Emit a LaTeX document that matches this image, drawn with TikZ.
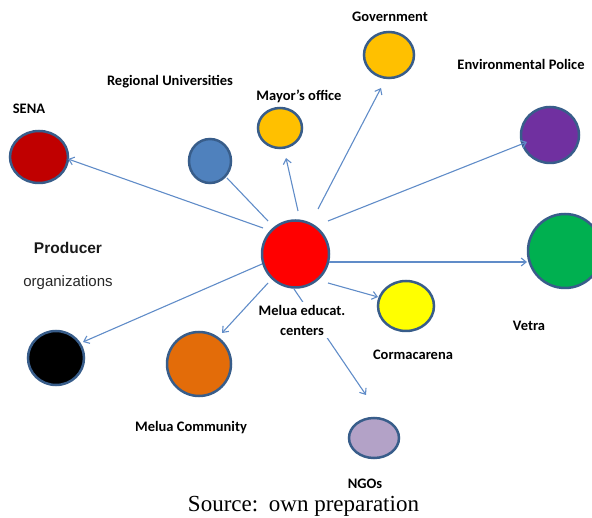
\documentclass[tikz,border=0pt]{standalone}
\usepackage{fontspec}
\setmainfont{Liberation Serif}
\newfontfamily\lblfont{Carlito}
\newfontfamily\arialfont{Liberation Sans}
\usetikzlibrary{shapes.geometric,arrows.meta}
\definecolor{outl}{RGB}{56,93,138}
\definecolor{arrowc}{RGB}{96,140,200}
\definecolor{cSena}{RGB}{192,0,0}
\definecolor{cBlue}{RGB}{79,129,189}
\definecolor{cGold}{RGB}{255,192,0}
\definecolor{cPurple}{RGB}{112,48,160}
\definecolor{cRed}{RGB}{255,0,0}
\definecolor{cGreen}{RGB}{0,176,80}
\definecolor{cYellow}{RGB}{255,255,0}
\definecolor{cLav}{RGB}{179,162,199}
\definecolor{cOrange}{RGB}{227,108,9}
\begin{document}
\begin{tikzpicture}[x=1pt,y=-1pt,
  bub/.style={ellipse,draw=outl,line width=2.5pt,inner sep=0pt},
  lbl/.style={font=\lblfont\bfseries\fontsize{14.5}{20}\selectfont,inner sep=0pt,text=black},
  con/.style={draw=arrowc,line width=1.1pt},
  arr/.style={con,-{Straight Barb[length=5pt,width=8pt]}}]
\useasboundingbox (0,0) rectangle (592,518);
\clip (0,0) rectangle (592,518);
% circles
\node[bub,fill=cSena,minimum width=58pt,minimum height=52pt] (sena) at (39,157) {};
\node[bub,fill=cBlue,minimum width=42pt,minimum height=44pt] (uni) at (210,161) {};
\node[bub,fill=cGold,minimum width=44pt,minimum height=40pt] (mayor) at (280,128) {};
\node[bub,fill=cGold,minimum width=50pt,minimum height=46pt] (gov) at (389,55) {};
\node[bub,fill=cPurple,minimum width=58pt,minimum height=56pt] (police) at (550,135) {};
\node[bub,fill=cRed,minimum width=67pt,minimum height=67pt] (melua) at (295.5,254) {};
\node[bub,fill=cGreen,minimum width=74pt,minimum height=74pt] (vetra) at (565,251) {};
\node[bub,fill=cYellow,minimum width=56pt,minimum height=50pt] (corma) at (406,306) {};
\node[bub,fill=cLav,minimum width=50pt,minimum height=40pt] (ngo) at (374,438) {};
\node[bub,fill=black,minimum width=56pt,minimum height=54pt] (prod) at (56,358) {};
\node[bub,fill=cOrange,minimum width=64pt,minimum height=64pt] (comm) at (199,364) {};
% connector ends
\coordinate (sSena) at (263,228);   \coordinate (tSena) at (68,159);
\coordinate (sUni) at (268,221);    \coordinate (tUni) at (227,178);
\coordinate (sMayor) at (298,211);  \coordinate (tMayor) at (286,158);
\coordinate (sGov) at (318,209);    \coordinate (tGov) at (381,88);
\coordinate (sPol) at (328,221);    \coordinate (tPol) at (527,142);
\coordinate (sVetra) at (329,262);  \coordinate (tVetra) at (527,262);
\coordinate (sCorma) at (328,283);  \coordinate (tCorma) at (378,297);
\coordinate (sNgo) at (294,289);    \coordinate (tNgo) at (366,395);
\coordinate (sComm) at (268,283);   \coordinate (tComm) at (222,333);
\coordinate (sProd) at (262,264);   \coordinate (tProd) at (83,342);
% connectors
\draw[arr] (sSena) -- (tSena);
\draw[con] (sUni) -- (tUni);
\draw[arr] (sMayor) -- (tMayor);
\draw[arr] (sGov) -- (tGov);
\draw[arr] (sPol) -- (tPol);
\draw[arr] (sVetra) -- (tVetra);
\draw[arr] (sCorma) -- (tCorma);
\draw[arr] (sNgo) -- (tNgo);
\draw[arr] (sComm) -- (tComm);
\draw[arr] (sProd) -- (tProd);
% labels
\node[lbl] (lGov) at (390,17) {Government};
\node[lbl] (lPol) at (521,64) {Environmental Police};
\node[lbl] (lUni) at (170,82) {Regional Universities};
\node[lbl] (lMayor) at (299,96) {Mayor’s office};
\node[lbl] (lSena) at (29,109) {SENA};
\node[font=\arialfont\bfseries\fontsize{15.5}{18}\selectfont,inner sep=0pt,text=black!90] (lProd) at (68,248) {Producer};
\node[font=\arialfont\fontsize{15}{18}\selectfont,inner sep=0pt,text=black!85] (lOrg) at (68,283) {organizations};
\node[lbl,fill=white,align=center,inner xsep=8pt,inner ysep=3pt] (lMelua) at (302,320) {Melua educat.\\centers};
\node[lbl] (lCorma) at (413,355) {Cormacarena};
\node[lbl] (lVetra) at (529,326) {Vetra};
\node[lbl] (lComm) at (191,428) {Melua Community};
\node[lbl] (lNgo) at (365,484) {NGOs};
\node[font=\fontsize{23}{26}\selectfont,inner sep=0pt] (src) at (303.5,506) {Source:\hspace{3pt} own preparation};
\end{tikzpicture}
\end{document}
